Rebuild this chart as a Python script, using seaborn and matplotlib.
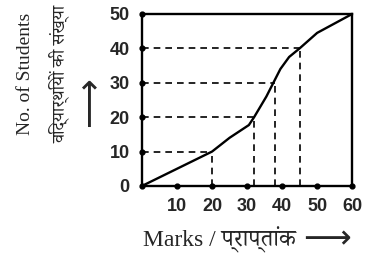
import numpy as np
import pandas as pd
import seaborn as sns
import matplotlib.pyplot as plt
from matplotlib import font_manager
from fontTools.ttLib import TTFont

# Ogive: marks vs cumulative number of students
marks = [0, 20, 25, 30.5, 32, 35.5, 37.5, 39.5, 42, 45, 50, 60]
students = [0, 10, 14, 17.7, 20, 26, 30, 34, 37.5, 40, 44.5, 50]

# dashed guide lines (student level -> marks)
guide_students = [10, 20, 30, 40]
guide_marks = [20, 32, 38, 45]

x_ticks = [10, 20, 30, 40, 50, 60]
y_ticks = [0, 10, 20, 30, 40, 50]


def devanagari_families():
    # installed fonts that cover Devanagari, serif ones first
    found = []
    for f in font_manager.fontManager.ttflist:
        try:
            cmap = TTFont(f.fname, fontNumber=0, lazy=True).getBestCmap()
        except Exception:
            continue
        if cmap and 0x0915 in cmap and f.name not in found:
            found.append(f.name)
    prefer = ["Noto Serif Devanagari", "FreeSerif", "Noto Sans Devanagari", "FreeSans"]
    ordered = [p for p in prefer if p in found]
    return ordered + [f for f in found if f not in ordered and f != "Unifont"]


sns.set_style("white")
plt.rcParams["font.family"] = ["Liberation Sans", "DejaVu Sans"]
deva = devanagari_families()[:2]

df = pd.DataFrame({"marks": marks, "students": students})

fig = plt.figure(figsize=(3.68, 2.54), dpi=100)
ax = fig.add_axes([0.386, 0.268, 0.571, 0.677])

# guide lines
for s, m in zip(guide_students, guide_marks):
    ax.plot([0, m], [s, s], color="black", lw=1.2, ls=(0, (4, 3)))
    ax.plot([m, m], [0, s], color="black", lw=1.2, ls=(0, (4, 3)))

sns.lineplot(data=df, x="marks", y="students", color="black", lw=1.7, ax=ax)

# dots on the axes
ax.scatter([0] * len(y_ticks), y_ticks, s=12, color="black", zorder=5, clip_on=False)
ax.scatter(x_ticks, [0] * len(x_ticks), s=12, color="black", zorder=5, clip_on=False)

ax.set_xlim(0, 60)
ax.set_ylim(0, 50)
ax.set_xticks(x_ticks)
ax.set_yticks(y_ticks)
ax.tick_params(length=0, labelsize=13, pad=9)
for lab in ax.get_xticklabels() + ax.get_yticklabels():
    lab.set_fontweight("bold")
ax.set_xlabel("")
ax.set_ylabel("")
for sp in ax.spines.values():
    sp.set_color("black")
    sp.set_linewidth(1.7)

serif = ["Liberation Serif"] + deva + ["DejaVu Sans"]
fig.text(0.070, 0.71, "No. of Students", rotation=90, ha="center", va="center",
         fontsize=14, family=serif)
fig.text(0.16, 0.71, "विद्यार्थियों की संख्या", rotation=90, ha="center", va="center",
         fontsize=13, family=serif)
fig.text(0.24, 0.60, "⟶", rotation=90, ha="center", va="center",
         fontsize=25, family=["DejaVu Sans"])

xlab = fig.text(0.389, 0.055, "Marks / प्राप्तांक", ha="left", va="center",
                fontsize=17, family=serif)
fig.canvas.draw()
bb = xlab.get_window_extent().transformed(fig.transFigure.inverted())
fig.text(bb.x1 + 0.02, 0.06, "⟶", ha="left", va="center",
         fontsize=24, family=["DejaVu Sans"])

fig.savefig("out.png", dpi=100)
